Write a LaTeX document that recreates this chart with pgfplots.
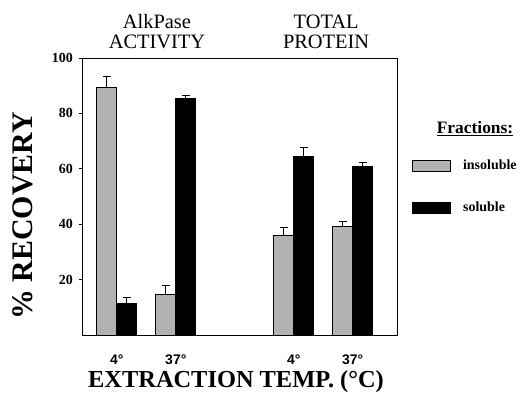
\documentclass[border=0pt]{standalone}
\usepackage{fontspec}
\setmainfont{Liberation Serif}
\newfontfamily\sansf{Liberation Sans}
\usepackage{pgfplots}
\usepackage{pgfplotstable}
\pgfplotsset{compat=1.18}
\pgfplotstableread{
x y e
1 89.2 4.3
2 14.7 3.3
4 36.0 2.8
5 39.3 1.7
}\insoluble
\pgfplotstableread{
x y e
1 11.5 2.2
2 85.2 1.4
4 64.3 3.5
5 60.8 1.5
}\soluble
\begin{document}
\begin{tikzpicture}
\begin{axis}[
  at={(0,0)}, anchor=south west,
  scale only axis, width=315bp, height=277bp,
  xmin=0.41, xmax=5.75, ymin=0, ymax=100,
  clip=false,
  axis line style={line width=0.9pt},
  ybar,
  ytick={20,40,60,80,100},
  ytick pos=left,
  /pgf/number format/assume math mode=true,
  yticklabel style={font=\fontsize{14}{14}\selectfont\bfseries, anchor=east, inner sep=0pt, xshift=-6bp},
  tick align=outside, major tick length=3bp,
  y tick style={line width=0.8pt, black},
  xtick={1,2,4,5}, xticklabels={4°,37°,4°,37°},
  x tick style={draw=none},
  xticklabel style={font=\sansf\fontsize{14}{14}\selectfont\bfseries, anchor=north, inner sep=0pt, yshift=-17bp},
  xlabel={EXTRACTION TEMP. (°C)},
  xlabel style={font=\fontsize{24.5}{24.5}\selectfont\bfseries, at={(axis description cs:0.489,-0.17)}, anchor=center},
  ylabel={\% RECOVERY},
  ylabel style={font=\fontsize{30}{30}\selectfont\bfseries, at={(axis description cs:-0.189,0.43)}, anchor=center},
  legend style={at={(axis description cs:1.048,0.64)}, anchor=north west, draw=none, fill=none, inner sep=0pt,
    row sep=27bp, font=\fontsize{14}{14}\selectfont\bfseries, column sep=0bp},
  legend cell align=left,
  swatch/.style={legend image code/.code={\draw[##1,line width=0.8pt] (0bp,-5.5bp) rectangle (38bp,5.5bp);}},
]
\addplot[ybar, bar width=20bp, bar shift=-10bp, fill=black!30, draw=black, line width=1pt, swatch,
  error bars/.cd, y dir=plus, y explicit,
  error bar style={line width=0.8pt, black},
  error mark options={rotate=90, line width=0.8pt, mark size=4bp, black}]
  table[x=x, y=y, y error=e] {\insoluble};
\addlegendentry{\hspace{10bp}insoluble}
\addplot[ybar, bar width=20bp, bar shift=10bp, fill=black, draw=black, line width=1pt, swatch,
  error bars/.cd, y dir=plus, y explicit,
  error bar style={line width=0.8pt, black},
  error mark options={rotate=90, line width=0.8pt, mark size=4bp, black}]
  table[x=x, y=y, y error=e] {\soluble};
\addlegendentry{\hspace{10bp}soluble}
\node[font=\fontsize{20.5}{21}\selectfont, anchor=base, inner sep=0pt] at (axis description cs:0.238,1.108) {AlkPase};
\node[font=\fontsize{20.5}{21}\selectfont, anchor=base, inner sep=0pt] at (axis description cs:0.238,1.0325) {ACTIVITY};
\node[font=\fontsize{20.5}{21}\selectfont, anchor=base, inner sep=0pt] at (axis description cs:0.775,1.108) {TOTAL};
\node[font=\fontsize{20.5}{21}\selectfont, anchor=base, inner sep=0pt] at (axis description cs:0.775,1.0325) {PROTEIN};
\node[font=\fontsize{17.5}{17.5}\selectfont\bfseries, anchor=base, inner sep=0pt] at (axis description cs:1.2476,0.729) {\underline{Fractions:}};
\end{axis}
\pgfresetboundingbox
\path[use as bounding box] (-82bp,-68bp) rectangle (438bp,335bp);
\end{tikzpicture}
\end{document}
